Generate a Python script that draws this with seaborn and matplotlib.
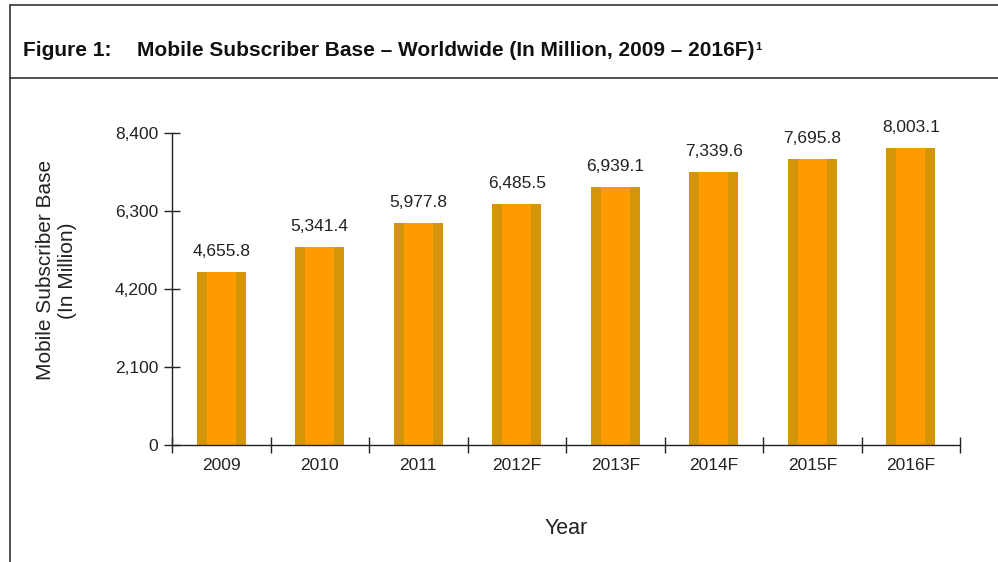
import matplotlib
matplotlib.use("Agg")
import matplotlib.pyplot as plt
import seaborn as sns
import pandas as pd
from matplotlib.ticker import FuncFormatter, FixedLocator
from matplotlib.lines import Line2D

years = ["2009", "2010", "2011", "2012F", "2013F", "2014F", "2015F", "2016F"]
subscribers = [4655.8, 5341.4, 5977.8, 6485.5, 6939.1, 7339.6, 7695.8, 8003.1]
y_ticks = [0, 2100, 4200, 6300, 8400]

df = pd.DataFrame({"Year": years, "Subscribers": subscribers})

sns.set_theme(style="white")
plt.rcParams["font.family"] = ["Liberation Sans", "DejaVu Sans"]

fig = plt.figure(figsize=(9.98, 5.62), dpi=100)
ax = fig.add_axes([172 / 998, 1 - 445 / 562, (960 - 172) / 998, (445 - 133) / 562])

# Outer bar in dark gold, brighter orange core on top
sns.barplot(data=df, x="Year", y="Subscribers", color="#D5950B", saturation=1,
            width=0.5, ax=ax, errorbar=None, linewidth=0)
sns.barplot(data=df, x="Year", y="Subscribers", color="#FF9A00", saturation=1,
            width=0.29, ax=ax, errorbar=None, linewidth=0)

ax.set_xlim(-0.5, len(years) - 0.5)
ax.set_ylim(0, 8400)
ax.yaxis.set_major_locator(FixedLocator(y_ticks))
ax.yaxis.set_major_formatter(FuncFormatter(lambda v, p: f"{int(v):,}"))

for i, v in enumerate(subscribers):
    ax.text(i, v + 430, f"{v:,.1f}", ha="center", va="baseline", fontsize=12.5,
            color="#222222")

for side in ["top", "right"]:
    ax.spines[side].set_visible(False)
for side in ["left", "bottom"]:
    ax.spines[side].set_color("#222222")
    ax.spines[side].set_linewidth(1.0)

ax.tick_params(axis="y", which="major", direction="inout", length=12, width=1,
               color="#222222", labelsize=12.5, labelcolor="#222222", pad=4, left=True)
ax.tick_params(axis="x", which="major", length=0, labelsize=12.5, labelcolor="#222222", pad=9)
ax.set_xticks([i - 0.5 for i in range(len(years) + 1)], minor=True)
ax.tick_params(axis="x", which="minor", direction="inout", length=12, width=1,
               color="#222222", bottom=True)

ax.set_xlabel("Year", fontsize=15.5, color="#222222", labelpad=33)
ax.set_ylabel("Mobile Subscriber Base\n(In Million)", fontsize=15, color="#222222",
              linespacing=1.2)
ax.yaxis.set_label_coords(-0.121, 0.56)

# Figure frame and header separator
frame_color = "#333333"
fig.add_artist(Line2D([10 / 998, 10 / 998], [0, 1 - 5 / 562], transform=fig.transFigure,
                      color=frame_color, lw=1.2))
fig.add_artist(Line2D([10 / 998, 1], [1 - 5 / 562, 1 - 5 / 562], transform=fig.transFigure,
                      color=frame_color, lw=1.2))
fig.add_artist(Line2D([10 / 998, 1], [1 - 78 / 562, 1 - 78 / 562], transform=fig.transFigure,
                      color=frame_color, lw=1.2))

fig.text(23 / 998, 1 - 50 / 562, "Figure 1:",
         fontsize=15, fontweight="bold", color="#111111", va="center", ha="left")
title = fig.text(137 / 998, 1 - 50 / 562,
                 "Mobile Subscriber Base \u2013 Worldwide (In Million, 2009 \u2013 2016F)",
                 fontsize=15, fontweight="bold", color="#111111", va="center", ha="left")

# Small footnote marker after the title
renderer = fig.canvas.get_renderer()
bb = title.get_window_extent(renderer=renderer)
fig.text((bb.x1 + 1) / fig.bbox.width, (bb.y1 - 2) / fig.bbox.height, "1",
         fontsize=8, fontweight="bold", color="#111111", va="top", ha="left")

fig.savefig("out.png", dpi=100, facecolor="white")
